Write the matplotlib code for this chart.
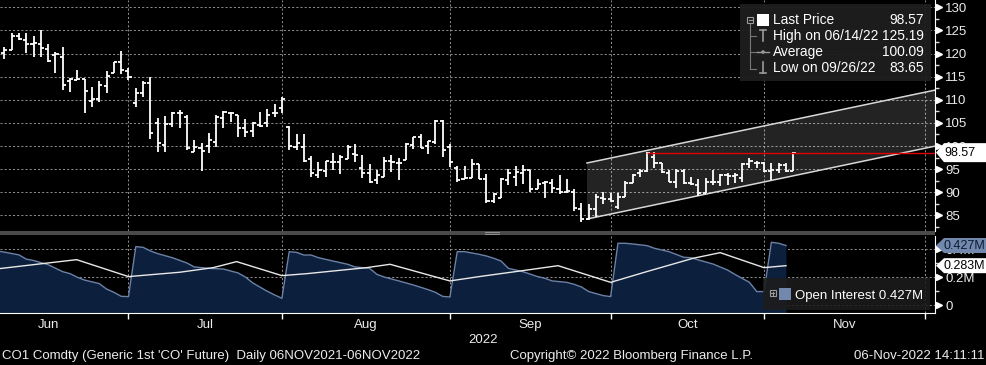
import numpy as np
import pandas as pd
import matplotlib
matplotlib.use("Agg")
import matplotlib.pyplot as plt
from matplotlib.collections import LineCollection
from matplotlib.patches import Rectangle, Polygon, Circle
from matplotlib.lines import Line2D
from matplotlib.transforms import IdentityTransform

plt.rcParams['font.family'] = ['Liberation Sans', 'DejaVu Sans']

# ---------------- data (daily bars, business days from FIRST_DAY) ----------------
FIRST_DAY = "2022-06-06"

OPEN = [119.5, 120.2, 120.77, 123.8, 122.93, 122.07, 122.07, 120.92, 119.62, 119.18,
        114.14, 114.28, 114.43, 109.74, 110.1, 112.98, 115.87, 118.18, 116.23, 109.38,
        111.54, 113.56, 104.91, 100.15, 104.69, 107.07, 106.35, 98.71, 99.5, 100.01,
        100.8, 105.99, 107.07, 106.71, 103.83, 103.25, 104.55, 104.91, 107.22, 108.15,
        104.19, 99.86, 99.86, 97.12, 93.73, 94.67, 96.47, 96.47, 97.12, 98.28,
        95.17, 94.09, 92.65, 93.37, 96.76, 96.26, 96.98, 100.22, 102.03, 100.08,
        100.8, 105.34, 99.86, 95.17, 92.8, 93.01, 96.04, 92.8, 88.11, 88.83,
        92.65, 93.37, 94.09, 94.81, 90.7, 91.93, 92.08, 90.7, 89.98, 90.13,
        86.34, 84.14, 86.3, 88.69, 88.47, 86.88, 88.98, 92.08, 94.09, 94.67,
        97.7, 96.26, 94.09, 92.29, 94.67, 91.93, 91.57, 89.91, 92.29, 92.29,
        93.73, 93.52, 93.01, 96.11, 96.4, 96.26, 94.67, 94.81, 95.89, 94.67]
HIGH = [120.5, 121.35, 124.38, 124.38, 124.38, 123.8, 125.19, 122.07, 120.41, 121.35,
        114.64, 116.44, 114.43, 112.7, 114.07, 116.23, 118.25, 120.56, 116.8, 112.48,
        114.07, 114.86, 105.99, 106.5, 107.43, 107.79, 106.71, 101.31, 100.59, 102.75,
        106.71, 107.65, 107.43, 106.71, 105.85, 105.27, 107.29, 108.01, 109.09, 110.68,
        104.33, 102.53, 102.53, 97.84, 96.47, 96.83, 98.42, 98.06, 100.22, 100.44,
        98.06, 96.11, 94.81, 97.7, 98.06, 97.34, 100.58, 102.03, 102.6, 101.16,
        105.56, 105.56, 100.44, 95.68, 95.68, 97.12, 96.04, 93.95, 89.91, 93.16,
        95.03, 95.75, 95.89, 94.81, 92.87, 92.44, 92.87, 93.73, 92.87, 90.7,
        87.75, 87.46, 89.55, 90.13, 89.91, 89.91, 92.44, 93.95, 94.96, 98.78,
        98.78, 96.4, 94.81, 94.96, 94.96, 93.37, 92.8, 93.01, 94.81, 93.95,
        94.09, 94.24, 96.26, 97.34, 96.83, 96.62, 96.4, 96.4, 96.26, 98.78]
LOW = [119.0, 118.75, 120.77, 122.93, 120.05, 119.18, 119.18, 118.25, 115.72, 112.12,
       111.76, 114.28, 107.22, 108.37, 109.6, 111.54, 115.72, 115.58, 114.28, 108.37,
       110.68, 101.45, 98.78, 98.78, 104.19, 103.83, 99.14, 98.71, 94.67, 98.42,
       99.72, 103.83, 105.27, 101.88, 102.03, 101.88, 104.19, 104.19, 106.21, 107.07,
       99.14, 99.14, 96.62, 93.37, 93.01, 93.37, 94.81, 93.95, 97.12, 96.62,
       93.01, 91.93, 91.71, 93.37, 94.45, 92.65, 96.98, 99.29, 99.5, 98.28,
       100.44, 97.7, 95.53, 92.29, 92.8, 93.01, 92.8, 87.75, 87.75, 88.69,
       91.57, 91.43, 91.79, 90.13, 90.63, 88.69, 89.77, 89.62, 89.77, 86.02,
       83.65, 84.0, 84.72, 87.46, 87.97, 86.38, 88.98, 92.08, 93.37, 94.45,
       95.17, 94.09, 92.29, 90.85, 91.71, 91.57, 89.19, 89.77, 91.57, 91.35,
       91.57, 92.08, 92.29, 95.17, 95.17, 94.45, 92.65, 94.24, 94.45, 94.67]
CLOSE = [119.8, 120.77, 123.8, 123.08, 122.07, 122.36, 121.13, 118.46, 119.91, 113.13,
         114.57, 114.57, 111.9, 110.1, 113.2, 115.07, 118.18, 116.37, 114.86, 111.54,
         113.56, 102.75, 100.73, 104.69, 107.07, 107.07, 99.5, 99.86, 99.0, 101.31,
         106.35, 107.43, 107.22, 103.83, 103.11, 104.91, 104.33, 106.71, 107.22, 110.17,
         100.08, 100.58, 96.83, 94.09, 94.81, 96.83, 96.47, 97.7, 99.86, 98.06,
         94.09, 92.29, 93.73, 96.83, 96.62, 96.4, 100.44, 101.88, 99.64, 101.16,
         105.34, 99.14, 96.47, 92.65, 93.01, 96.04, 92.8, 88.11, 89.62, 92.87,
         94.24, 94.45, 94.81, 90.7, 91.79, 92.29, 90.85, 90.13, 90.34, 86.52,
         84.14, 86.3, 88.98, 88.47, 88.18, 88.98, 92.08, 93.73, 94.67, 98.42,
         96.26, 94.45, 92.29, 94.67, 91.93, 91.79, 89.91, 92.29, 92.29, 93.73,
         93.52, 93.73, 96.11, 96.83, 96.26, 94.67, 94.81, 95.89, 94.67, 98.57]

# open interest (millions), trading-day index -> value
OI_DAY = [0, 1, 2, 3, 4, 5, 7, 9, 10, 11, 12, 14, 15, 16, 17, 18,
          19, 20, 21, 22, 24, 26, 27, 29, 31, 32, 33, 34, 35, 36, 37, 38, 39,
          40, 41, 42, 43, 44, 46, 48, 49, 51, 52, 53, 55, 57, 59, 60, 61, 62,
          63, 64, 66, 67, 68, 69, 70, 72, 74, 75, 76, 78, 79, 80, 81, 83, 84,
          85, 86, 87, 89, 90, 92, 94, 95, 96, 98, 100, 101, 103, 104, 105,
          106, 107, 108]
OI_VAL = [0.388, 0.38, 0.37, 0.36, 0.33, 0.32, 0.29, 0.24, 0.226, 0.20, 0.18, 0.155, 0.116, 0.093, 0.064, 0.062,
          0.419, 0.414, 0.388, 0.369, 0.340, 0.302, 0.274, 0.264, 0.259, 0.245, 0.231, 0.202, 0.16, 0.13, 0.10, 0.074, 0.050,
          0.383, 0.378, 0.359, 0.359, 0.340, 0.316, 0.293, 0.274, 0.264, 0.221, 0.202, 0.174, 0.145, 0.112, 0.093, 0.064, 0.059,
          0.383, 0.383, 0.364, 0.352, 0.336, 0.316, 0.264, 0.240, 0.205, 0.193, 0.174, 0.164, 0.150, 0.131, 0.098, 0.069, 0.062,
          0.443, 0.443, 0.438, 0.426, 0.407, 0.383, 0.343, 0.340, 0.324, 0.295, 0.252, 0.221, 0.164, 0.098, 0.098,
          0.450, 0.443, 0.427]
# white line in the lower panel (millions)
OI2_DAY = [0, 10.9, 18, 25, 29.6, 32.8, 39, 42.4, 50.6, 53.8, 62, 66, 71.6, 76.8,
           84, 88.9, 95.3, 99, 105, 108]
OI2_VAL = [0.26, 0.326, 0.205, 0.236, 0.269, 0.312, 0.212, 0.226, 0.269, 0.293, 0.174, 0.205, 0.245, 0.283,
           0.164, 0.240, 0.336, 0.376, 0.269, 0.283]

LAST_PRICE = 98.57
HIGH_DATE, HIGH_VALUE = "06/14/22", 125.19
AVERAGE = 100.09
LOW_DATE, LOW_VALUE = "09/26/22", 83.65
OI_LAST = 0.427
OI2_LAST = 0.283

PRICE_TICKS = [85, 90, 95, 100, 105, 110, 115, 120, 125, 130]
OI_TICKS = [0, 0.2, 0.4]
OI_TICK_LABELS = ["0", "0.2M", "0.4M"]

# trend channel (annotation)
CH_START, CH_UP0, CH_LO0, CH_SLOPE = 80.76, 96.33, 84.21, 0.331
RED_START = 89

# ---------------- layout ----------------
W, H = 987, 365
fig = plt.figure(figsize=(W / 100, H / 100), dpi=100, facecolor='black')
ax1 = fig.add_axes([0, 1 - 231 / H, 935 / W, 231 / H], facecolor='black')
ax2 = fig.add_axes([0, 1 - 313 / H, 935 / W, (313 - 236) / H], facecolor='black')
XLIM = (0.41, 128.40)
YLIM1 = (81.62, 131.59)
YLIM2 = (-0.055, 0.495)

TXT = '#ececec'
FS = 9.5
TFS = 9.0
GRID = dict(color='#8a8a8a', linestyle=(0, (2, 2)), linewidth=0.75)

cal = pd.bdate_range('2022-05-02', '2022-12-30')
k0 = cal.get_loc(pd.Timestamp(FIRST_DAY))
ser = cal.to_series()
month_end = ser.groupby(cal.to_period('M')).max()
me_pos = np.array([cal.get_loc(d) - k0 for d in month_end])
lab_pos = [(me_pos[i - 1] + me_pos[i]) / 2 for i in range(1, len(me_pos))]
lab_txt = [p.strftime('%b') for p in month_end.index[1:]]
in_view = (me_pos > XLIM[0]) & (me_pos < XLIM[1])
lab_keep = [(p, t) for p, t in zip(lab_pos, lab_txt) if XLIM[0] < p < XLIM[1]]

x = np.arange(len(OPEN))

# ---- price panel ----
cx = np.array([CH_START, XLIM[1]])
up = CH_UP0 + CH_SLOPE * (cx - CH_START)
lo = CH_LO0 + CH_SLOPE * (cx - CH_START)
ax1.add_patch(Polygon([(cx[0], up[0]), (cx[1], up[1]), (cx[1], lo[1]), (cx[0], lo[0])],
                      closed=True, facecolor='white', alpha=0.14, edgecolor='none', zorder=1))
ax1.plot(cx, up, color='#d8d8d8', lw=1.1, zorder=2)
ax1.plot(cx, lo, color='#d8d8d8', lw=1.1, zorder=2)

segs = []
for xi, o, h, l, c in zip(x, OPEN, HIGH, LOW, CLOSE):
    segs.append([(xi, l), (xi, h)])
    segs.append([(xi - 0.42, o), (xi, o)])
    segs.append([(xi, c), (xi + 0.42, c)])
ax1.add_collection(LineCollection(segs, colors='white', linewidths=1.3, capstyle='butt', zorder=3))
ax1.hlines(LAST_PRICE, RED_START, XLIM[1], color='#e00000', lw=1.0, zorder=4)

ax1.set_xticks(me_pos[in_view])
ax1.set_yticks(PRICE_TICKS)
ax1.set_yticks(np.arange(82.5, 131, 5), minor=True)
ax1.grid(True, which='major', **GRID)
ax1.set_axisbelow(True)
ax1.tick_params(axis='x', which='both', length=0, labelbottom=False)
ax1.yaxis.tick_right()
ax1.tick_params(axis='y', which='major', length=0, pad=7.5, labelsize=FS, labelcolor=TXT)
ax1.tick_params(axis='y', which='minor', length=3, width=1, color='#dddddd')
for s in ['left', 'top', 'bottom']:
    ax1.spines[s].set_visible(False)
ax1.spines['right'].set_color('white')
ax1.set_xlim(*XLIM)
ax1.set_ylim(*YLIM1)
ax1.plot([1.004] * len(PRICE_TICKS), PRICE_TICKS, ls='none', marker='>', ms=4.5, color='white',
         transform=ax1.get_yaxis_transform(), clip_on=False)

# ---- open interest panel ----
ax2.set_ylim(*YLIM2)
base = YLIM2[0]
ax2.fill_between(OI_DAY, OI_VAL, base, color='#0c1f3c', lw=0, zorder=1)
ax2.plot(OI_DAY, OI_VAL, color='#6b82a8', lw=1.0, zorder=2)
ax2.plot(OI2_DAY, OI2_VAL, color='#e8e8e8', lw=1.0, zorder=3)
ax2.set_xticks(me_pos[in_view])
ax2.set_xticks([p for p, t in lab_keep], minor=True)
ax2.set_xticklabels([''] * int(in_view.sum()))
ax2.set_xticklabels([t for p, t in lab_keep], minor=True)
ax2.tick_params(axis='x', which='major', length=4, width=1, color='white', direction='out')
ax2.tick_params(axis='x', which='minor', length=0, pad=4, labelsize=FS, labelcolor=TXT)
ax2.set_yticks(OI_TICKS)
ax2.set_yticklabels(OI_TICK_LABELS)
ax2.set_yticks([0.1, 0.3], minor=True)
ax2.yaxis.tick_right()
ax2.tick_params(axis='y', which='major', length=0, pad=7.5, labelsize=FS, labelcolor=TXT)
ax2.tick_params(axis='y', which='minor', length=3, width=1, color='#dddddd')
ax2.grid(True, which='major', **GRID)
ax2.set_axisbelow(True)
for s in ['left', 'top']:
    ax2.spines[s].set_visible(False)
ax2.spines['right'].set_color('white')
ax2.spines['bottom'].set_color('white')
ax2.set_xlim(*XLIM)
ax2.set_ylim(*YLIM2)
ax2.plot([1.004] * len(OI_TICKS), OI_TICKS, ls='none', marker='>', ms=4.5, color='white',
         transform=ax2.get_yaxis_transform(), clip_on=False)

# ---------------- figure-level decorations ----------------
ID = IdentityTransform()


def P(px, py):
    return (px, H - py)


def frect(x0, y0, x1, y1, **kw):
    fig.patches.append(Rectangle(P(x0, y1), x1 - x0, y1 - y0, transform=ID, **kw))


def fline(xs, ys, **kw):
    fig.lines.append(Line2D(xs, [H - v for v in ys], transform=ID, **kw))


def ftext(px, py, s, **kw):
    kw.setdefault('color', TXT)
    kw.setdefault('fontsize', FS)
    kw.setdefault('va', 'center')
    fig.text(px, H - py, s, transform=ID, **kw)


# separator between panels
frect(0, 231, 935, 235, facecolor='#4a4a4a', edgecolor='none', zorder=2)
fline([485, 499], [232.3, 232.3], color='#a0a0a0', lw=0.6, zorder=3)
fline([485, 499], [233.8, 233.8], color='#a0a0a0', lw=0.6, zorder=3)


def tag(ax, value, text, face, tc, half):
    yd = ax.transData.transform((0, value))[1]
    xr = ax.transAxes.transform((1, 0))[0]
    pts = [(xr + 1, yd), (xr + 9, yd + half), (W + 2, yd + half), (W + 2, yd - half), (xr + 9, yd - half)]
    fig.patches.append(Polygon(pts, closed=True, transform=ID, facecolor=face, edgecolor='none', zorder=6))
    fig.text(xr + 9, yd, text, transform=ID, color=tc, fontsize=TFS, va='center', ha='left', zorder=7)


tag(ax1, LAST_PRICE, f"{LAST_PRICE:.2f}", 'white', 'black', 9.5)
tag(ax2, OI_LAST, f"{OI_LAST:.3f}M", '#7288ad', '#0b1a33', 7.5)
tag(ax2, OI2_LAST, f"{OI2_LAST:.3f}M", 'white', 'black', 7.5)

# legend (price panel)
frect(740, 4, 931, 81, facecolor='#1e1e1e', edgecolor='none', alpha=0.95, zorder=5)
LG = '#9a9a9a'
frect(747, 17, 753, 23, facecolor='none', edgecolor=LG, lw=0.8, zorder=6)
fline([748.5, 751.5], [20, 20], color=LG, lw=0.8, zorder=6)
fline([750, 750], [23, 68.5], color='#777777', lw=0.8, zorder=6)
fline([750, 756], [36, 36], color='#777777', lw=0.8, zorder=6)
fline([750, 757], [52, 52], color='#777777', lw=0.8, zorder=6)
fline([750, 756], [68.5, 68.5], color='#777777', lw=0.8, zorder=6)
frect(757, 14, 769, 26, facecolor='white', edgecolor='none', zorder=6)
fline([763, 763], [30, 41], color=LG, lw=1.2, zorder=6)
fline([760, 766], [30, 30], color=LG, lw=1.2, zorder=6)
fline([757, 769], [52, 52], color=LG, lw=1.0, zorder=6)
fig.patches.append(Circle(P(763, 52), 1.8, transform=ID, facecolor=LG, edgecolor='none', zorder=6))
fline([763, 763], [62, 73], color=LG, lw=1.2, zorder=6)
fline([760, 766], [73, 73], color=LG, lw=1.2, zorder=6)
LFS = 9.9
legend_rows = [("Last Price", f"{LAST_PRICE:.2f}", 20.5),
               (f"High on {HIGH_DATE}", f"{HIGH_VALUE:.2f}", 36.2),
               ("Average", f"{AVERAGE:.2f}", 52.2),
               (f"Low on {LOW_DATE}", f"{LOW_VALUE:.2f}", 68.2)]
for name, val, yy in legend_rows:
    ftext(773, yy, name, fontsize=LFS, zorder=7, color='white')
    ftext(923.5, yy, val, fontsize=LFS, ha='right', zorder=7, color='white')

# legend (open interest panel)
frect(763, 278, 930, 310, facecolor='#1c1c1c', edgecolor='none', alpha=0.88, zorder=5)
frect(769.5, 290, 775.5, 296, facecolor='none', edgecolor=LG, lw=0.8, zorder=6)
fline([771, 774], [293, 293], color=LG, lw=0.8, zorder=6)
fline([772.5, 772.5], [291.5, 294.5], color=LG, lw=0.8, zorder=6)
frect(779, 288, 791, 300, facecolor='#7288ad', edgecolor='none', zorder=6)
ftext(795, 295.5, f"Open Interest {OI_LAST:.3f}M", zorder=7, color='white')

# year and footer texts
ftext(468, 340, "2022")
ftext(2, 356, "CO1 Comdty (Generic 1st 'CO' Future)  Daily 06NOV2021-06NOV2022")
ftext(510, 356, "Copyright\u00a9 2022 Bloomberg Finance L.P.")
ftext(985, 356, "06-Nov-2022 14:11:11", ha='right')

fig.savefig("out.png", dpi=100, facecolor='black')
